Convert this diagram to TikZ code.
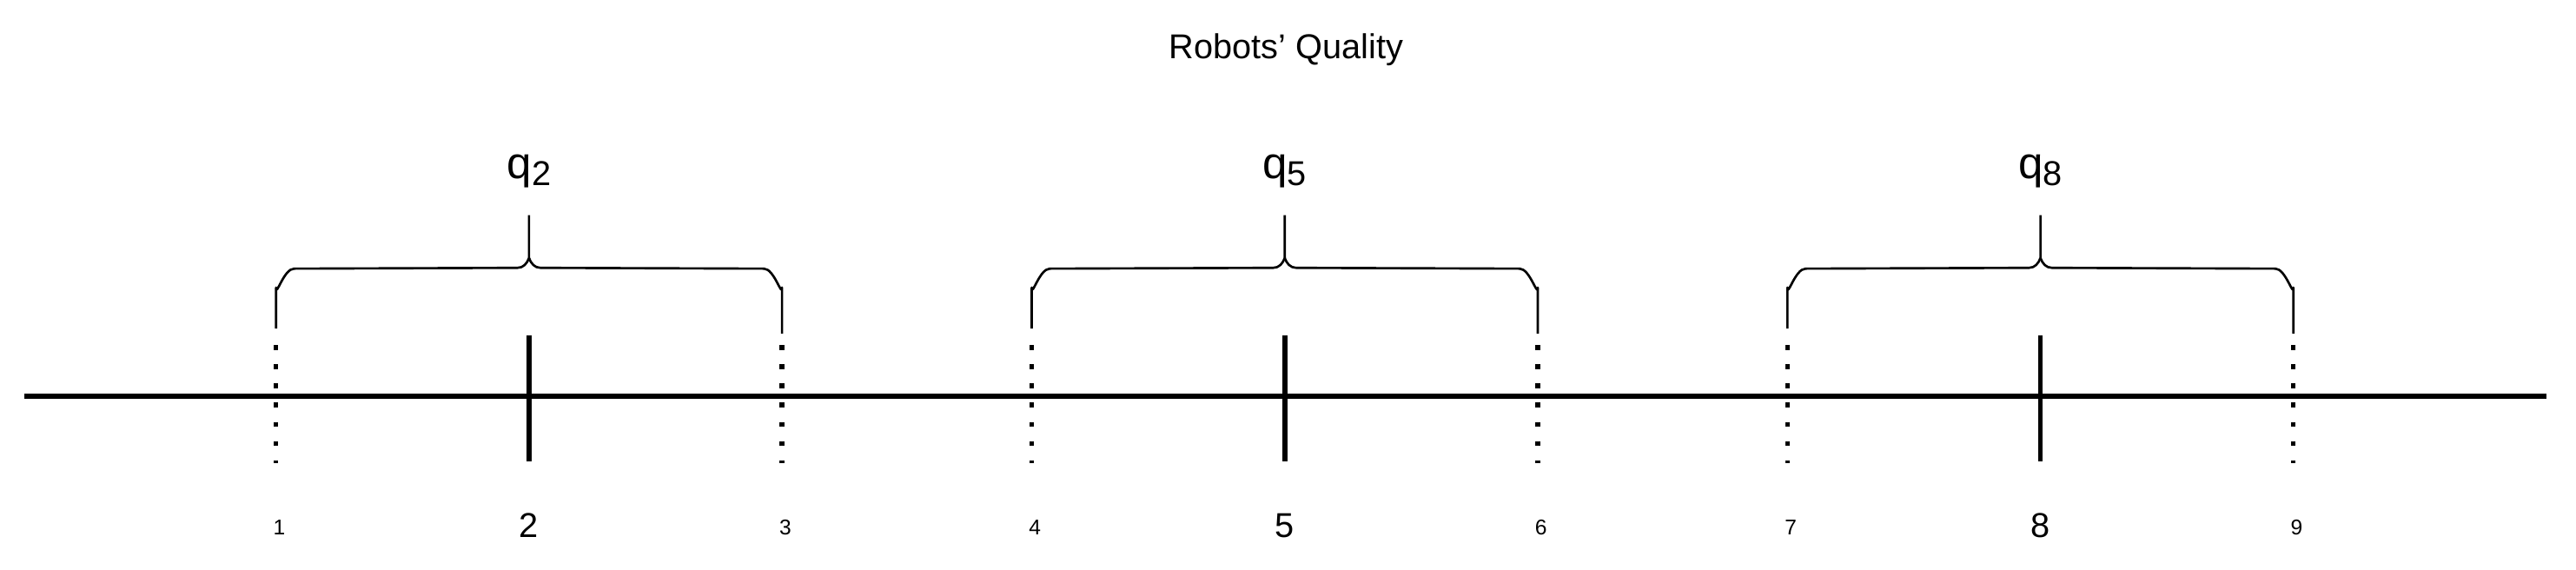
\documentclass[tikz,border=0pt]{standalone}
\usepackage{fontspec}
\setmainfont{Liberation Sans}
\begin{document}
\begin{tikzpicture}[x=1pt,y=-1pt,
  tick/.style={line width=3pt},
  dotl/.style={line width=2.8pt,dash pattern=on 3pt off 8.7pt},
  brc/.style={line width=1.4pt},
  num/.style={font=\fontsize{13}{13}\selectfont},
  bignum/.style={font=\fontsize{21}{21}\selectfont},
  qlab/.style={font=\fontsize{27}{27}\selectfont}]
\useasboundingbox (0,0) rectangle (1568,346.4);
\node[font=\fontsize{21}{21}\selectfont] (title) at (783,30) {Robots' Quality};
\coordinate (a) at (15,241); \coordinate (b) at (1550,241);
\draw[line width=3pt] (a) -- (b);
\foreach \c/\n/\l/\r [count=\i] in {322/2/1/3, 782/5/4/6, 1242/8/7/9}{
  \pgfmathsetmacro\L{\c-154}\pgfmathsetmacro\R{\c+154}
  \coordinate (t\i a) at (\c,204); \coordinate (t\i b) at (\c,281);
  \draw[tick] (t\i a) -- (t\i b);
  \coordinate (l\i a) at (\L,210); \coordinate (l\i b) at (\L,282);
  \coordinate (r\i a) at (\R,210); \coordinate (r\i b) at (\R,282);
  \draw[dotl] (l\i a) -- (l\i b);
  \draw[dotl] (r\i a) -- (r\i b);
  \draw[brc,line join=round] (\L,200) -- (\L,175) to[out=-90,in=180] (\L+11,163.5) -- (\c-7,163)
     to[out=0,in=-110] (\c,157) -- (\c,131);
  \draw[brc,line join=round] (\R,203) -- (\R,175) to[out=-90,in=0] (\R-11,163.5) -- (\c+7,163)
     to[out=180,in=-70] (\c,157);
  \node[bignum] (n\i) at (\c,320) {\n};
  \node[num] (nl\i) at (\L+2,321) {\l};
  \node[num] (nr\i) at (\R+2,321) {\r};
  \node[qlab] (q\i) at (\c,104) {q\raisebox{-0.3ex}{\fontsize{21}{21}\selectfont\n}};
}
\end{tikzpicture}
\end{document}
